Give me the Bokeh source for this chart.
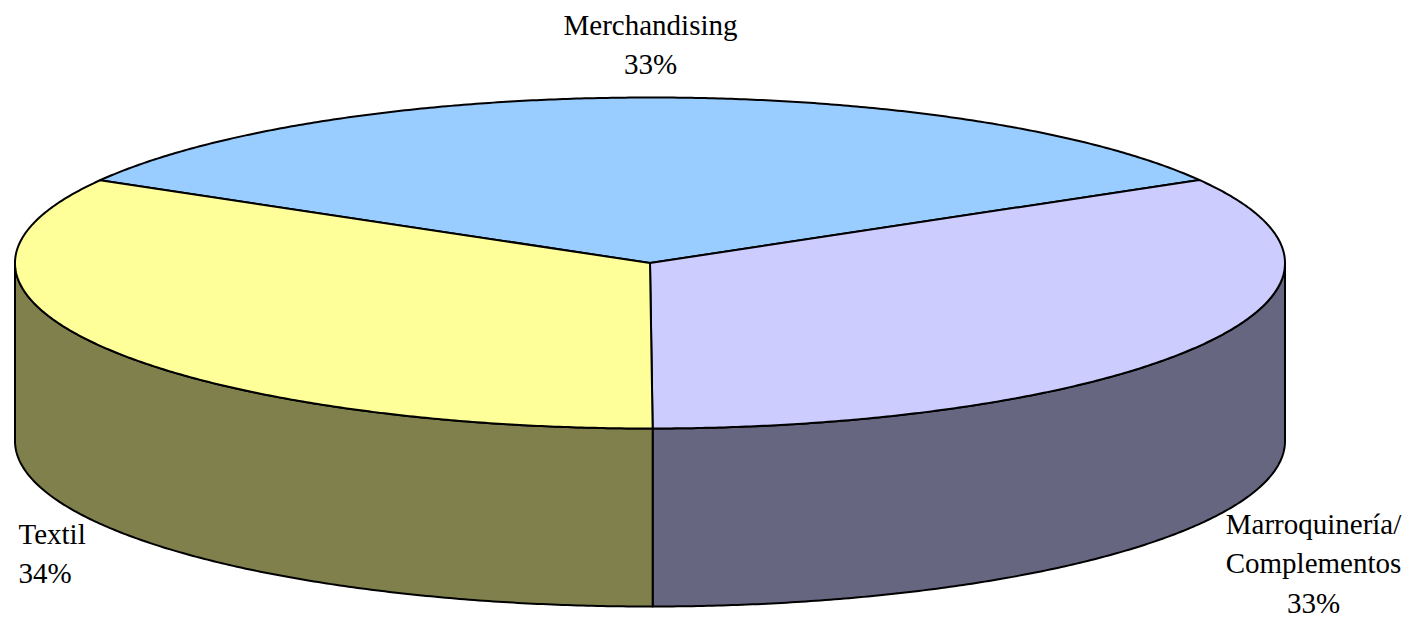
import numpy as np
from bokeh.plotting import figure
from bokeh.models import Range1d
from bokeh.core.properties import value
from bokeh.embed import file_html
from bokeh.resources import INLINE

# ---- data ----
categories = ["Merchandising", "Marroquinería/\nComplementos", "Textil"]
values = [33.3, 33.3, 33.4]
pct_labels = ["33%", "33%", "34%"]
top_colors = ["#99CCFF", "#CCCCFF", "#FFFF99"]
side_colors = ["#4C6680", "#666680", "#80804C"]

# ---- geometry (pixel-like data space) ----
cx, cy = 649.5, 262.5
a, b = 635.0, 165.5
depth = 178.0
start_deg = -60.0  # clockwise from 12 o'clock

W, H = 1412, 621
p = figure(width=W, height=H, output_backend="svg", toolbar_location=None,
           x_range=Range1d(0, W), y_range=Range1d(H, 0),
           min_border=0, outline_line_color=None)
p.axis.visible = False
p.grid.visible = False
p.background_fill_color = "white"
p.border_fill_color = "white"


def pt(theta_deg, dy=0.0):
    t = np.radians(theta_deg)
    return cx + a * np.sin(t), cy - b * np.cos(t) + dy


total = float(sum(values))
angles = []
acc = start_deg
for v in values:
    span = 360.0 * v / total
    angles.append((acc, acc + span))
    acc += span

# sides (front half only: 90..270 degrees)
sx, sy, sc = [], [], []
for (t0, t1), col in zip(angles, side_colors):
    for shift in (-360, 0, 360):
        lo = max(t0 + shift, 90.0)
        hi = min(t1 + shift, 270.0)
        if hi - lo > 0.01:
            th = np.linspace(lo, hi, 200)
            xt, yt = pt(th)
            xb, yb = pt(th[::-1], depth)
            sx.append(list(np.concatenate([xt, xb])))
            sy.append(list(np.concatenate([yt, yb])))
            sc.append(col)
p.patches(xs=sx, ys=sy, fill_color=sc, line_color="black", line_width=2,
          line_join="round")

# top slices
tx, ty = [], []
for (t0, t1) in angles:
    th = np.linspace(t0, t1, 300)
    xa, ya = pt(th)
    tx.append([cx] + list(xa))
    ty.append([cy] + list(ya))
p.patches(xs=tx, ys=ty, fill_color=top_colors, line_color="black",
          line_width=2, line_join="round")

# labels
font = value("Liberation Serif")
lab_x = [650, 1313, 18]
lab_y = [24, 523, 533]
aligns = ["center", "center", "left"]
line_h = 39.5
for cat, pct, x0, y0, al in zip(categories, pct_labels, lab_x, lab_y, aligns):
    lines = cat.split("\n") + [pct]
    ys = [y0 + i * line_h for i in range(len(lines))]
    p.text(x=[x0] * len(lines), y=ys, text=lines, text_font=font,
           text_font_size="29px", text_align=al, text_baseline="middle",
           text_color="black")

open("out.html", "w").write(file_html(p, INLINE))
